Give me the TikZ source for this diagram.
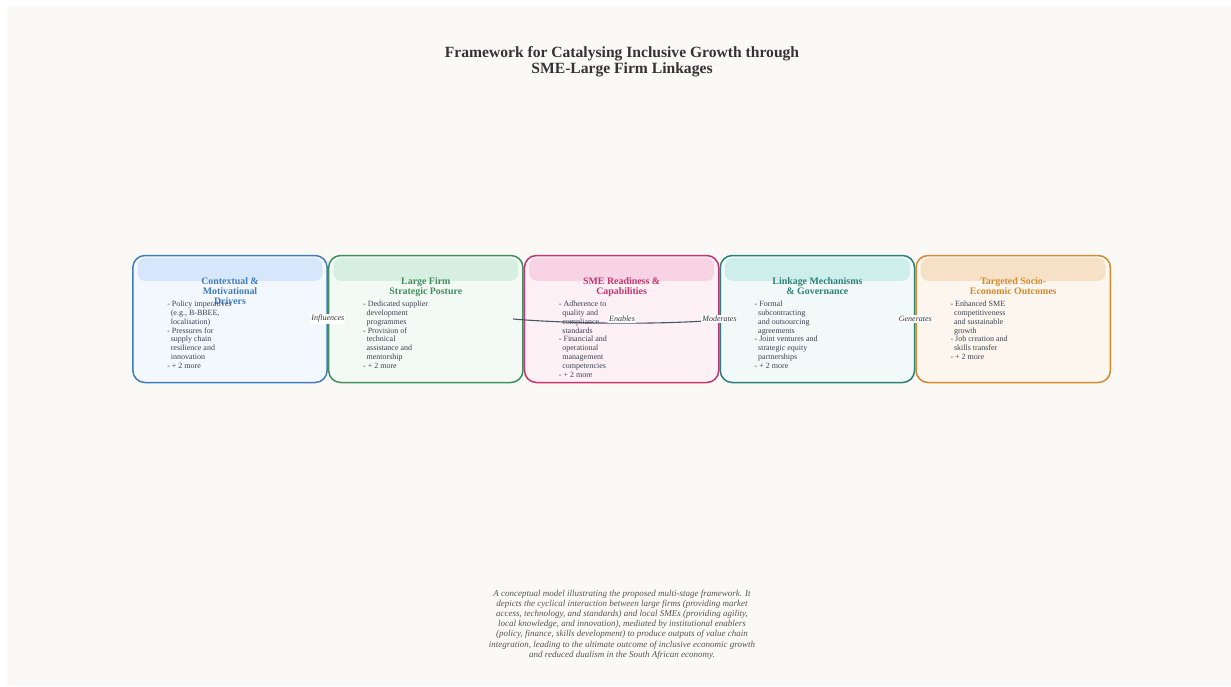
\documentclass[tikz,border=0pt]{standalone}
\usepackage{fontspec}
\setmainfont{Liberation Serif}
\usetikzlibrary{positioning}

\definecolor{paper}{HTML}{FAF9F5}
\definecolor{inkdark}{HTML}{333333}
\definecolor{inkbody}{HTML}{3C4152}
\definecolor{inkcap}{HTML}{555555}
\definecolor{wire}{HTML}{4A5568}
% stage colours: border, body, header band
\definecolor{ctxline}{HTML}{3D7CC0}\definecolor{ctxfill}{HTML}{F3F8FE}\definecolor{ctxband}{HTML}{D6E7FB}
\definecolor{firmline}{HTML}{3F8F5C}\definecolor{firmfill}{HTML}{F3FAF5}\definecolor{firmband}{HTML}{D7EFE0}
\definecolor{smeline}{HTML}{C8326E}\definecolor{smefill}{HTML}{FDF1F6}\definecolor{smeband}{HTML}{F7D3E4}
\definecolor{linkline}{HTML}{2B8078}\definecolor{linkfill}{HTML}{F1FAF9}\definecolor{linkband}{HTML}{CDEEEA}
\definecolor{outline}{HTML}{D4892F}\definecolor{outfill}{HTML}{FDF6EE}\definecolor{outband}{HTML}{F7E1C6}

\begin{document}
\begin{tikzpicture}[x=1pt, y=-1pt,
    stage/.style={draw, line width=1.5pt, rounded corners=12pt,
        minimum width=194.3pt, minimum height=127pt, inner sep=0pt},
    band/.style={rounded corners=8pt, minimum width=185pt,
        minimum height=23pt, inner sep=0pt},
    stagetitle/.style={align=center, inner sep=0pt,
        font=\fontsize{9.9}{10.2}\selectfont\bfseries},
    items/.style={align=left, inner sep=0pt, text=inkbody,
        font=\fontsize{8}{8.85}\selectfont},
    verb/.style={fill=white, inner sep=1pt, text=inkdark,
        font=\fontsize{8}{8.5}\selectfont\itshape}]

\useasboundingbox (0,0) rectangle (1231,686);
\fill[white] (0,0) rectangle (1231,686);
\fill[paper] (7,6) rectangle (1231,686);

% --- TITLE ---
\node[align=center, text=inkdark, font=\fontsize{15.6}{16.5}\selectfont\bfseries]
    (title) at (622,61.5)
    {Framework for Catalysing Inclusive Growth through\\SME-Large Firm Linkages};

% --- STAGES ---
\node[stage, draw=ctxline, fill=ctxfill] (ctx) at (230,319) {};
\node[stage, draw=firmline, fill=firmfill, right=0pt of ctx] (firm) {};
\node[stage, draw=smeline, fill=smefill, right=0pt of firm] (sme) {};
\node[stage, draw=linkline, fill=linkfill, right=0pt of sme] (link) {};
\node[stage, draw=outline, fill=outfill, right=0pt of link] (out) {};

% header bands
\node[band, fill=ctxband, below=3pt of ctx.north] (ctxband) {};
\node[band, fill=firmband, below=3pt of firm.north] (firmband) {};
\node[band, fill=smeband, below=3pt of sme.north] (smeband) {};
\node[band, fill=linkband, below=3pt of link.north] (linkband) {};
\node[band, fill=outband, below=3pt of out.north] (outband) {};

% stage titles
\node[stagetitle, text=ctxline, below=22.5pt of ctx.north] (ctxtitle)
    {Contextual \&\\Motivational\\Drivers};
\node[stagetitle, text=firmline, below=22.5pt of firm.north] (firmtitle)
    {Large Firm\\Strategic Posture};
\node[stagetitle, text=smeline, below=22.5pt of sme.north] (smetitle)
    {SME Readiness \&\\Capabilities};
\node[stagetitle, text=linkline, below=22.5pt of link.north] (linktitle)
    {Linkage Mechanisms\\\& Governance};
\node[stagetitle, text=outline, below=22.5pt of out.north] (outtitle)
    {Targeted Socio-\\Economic Outcomes};

% bullet lists
\node[items, below right=46pt and 35pt of ctx.north west] (ctxitems)
    {- Policy imperatives\\\hspace*{3.5pt}(e.g., B-BBEE,\\\hspace*{3.5pt}localisation)\\
     - Pressures for\\\hspace*{3.5pt}supply chain\\\hspace*{3.5pt}resilience and\\\hspace*{3.5pt}innovation\\
     - + 2 more};
\node[items, below right=46pt and 35pt of firm.north west] (firmitems)
    {- Dedicated supplier\\\hspace*{3.5pt}development\\\hspace*{3.5pt}programmes\\
     - Provision of\\\hspace*{3.5pt}technical\\\hspace*{3.5pt}assistance and\\\hspace*{3.5pt}mentorship\\
     - + 2 more};
\node[items, below right=46pt and 35pt of sme.north west] (smeitems)
    {- Adherence to\\\hspace*{3.5pt}quality and\\\hspace*{3.5pt}compliance\\\hspace*{3.5pt}standards\\
     - Financial and\\\hspace*{3.5pt}operational\\\hspace*{3.5pt}management\\\hspace*{3.5pt}competencies\\
     - + 2 more};
\node[items, below right=46pt and 35pt of link.north west] (linkitems)
    {- Formal\\\hspace*{3.5pt}subcontracting\\\hspace*{3.5pt}and outsourcing\\\hspace*{3.5pt}agreements\\
     - Joint ventures and\\\hspace*{3.5pt}strategic equity\\\hspace*{3.5pt}partnerships\\
     - + 2 more};
\node[items, below right=46pt and 35pt of out.north west] (outitems)
    {- Enhanced SME\\\hspace*{3.5pt}competitiveness\\\hspace*{3.5pt}and sustainable\\\hspace*{3.5pt}growth\\
     - Job creation and\\\hspace*{3.5pt}skills transfer\\
     - + 2 more};

% --- LINKS ---
\coordinate (enA) at (513,319);
\coordinate (enB) at (705,321);
\draw[wire, line width=1.1pt] (enA) .. controls (560,323) and (640,325) .. (enB);

\node[verb] (influences) at (ctx.east) {Influences};
\node[verb] (enables) at (622,319) {Enables};
\node[verb] (moderates) at (sme.east) {Moderates};
\node[verb] (generates) at (link.east) {Generates};

% --- CAPTION ---
\node[align=center, text=inkcap, font=\fontsize{9}{10.2}\selectfont\itshape]
    (caption) at (622,624.5)
    {A conceptual model illustrating the proposed multi-stage framework. It\\
     depicts the cyclical interaction between large firms (providing market\\
     access, technology, and standards) and local SMEs (providing agility,\\
     local knowledge, and innovation), mediated by institutional enablers\\
     (policy, finance, skills development) to produce outputs of value chain\\
     integration, leading to the ultimate outcome of inclusive economic growth\\
     and reduced dualism in the South African economy.};

\end{tikzpicture}
\end{document}
